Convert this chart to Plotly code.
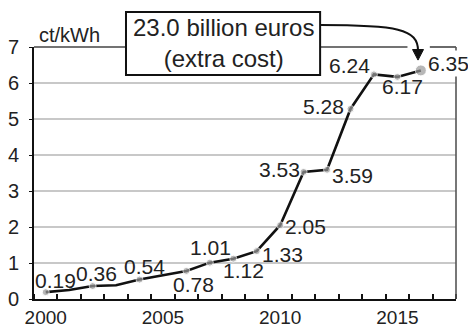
import plotly.graph_objects as go

# EEG surcharge, ct/kWh
years = [2000, 2001, 2002, 2003, 2004, 2005, 2006, 2007, 2008, 2009,
         2010, 2011, 2012, 2013, 2014, 2015, 2016]
surcharge = [0.19, 0.25, 0.36, 0.38, 0.54, 0.67, 0.78, 1.01, 1.12, 1.33,
             2.05, 3.53, 3.59, 5.28, 6.24, 6.17, 6.35]

# years that carry a marker and a value label
labeled_years = [2000, 2002, 2004, 2006, 2007, 2008, 2009,
                 2010, 2011, 2012, 2013, 2014, 2015, 2016]
labeled_values = [0.19, 0.36, 0.54, 0.78, 1.01, 1.12, 1.33,
                  2.05, 3.53, 3.59, 5.28, 6.24, 6.17, 6.35]

# label offsets in pixels (dx, dy) relative to each marker
label_offsets = [(10, 12), (4, 13), (5, 13), (7, -14), (1, 15), (10, -12), (26, -3),
                 (25, -1), (-24, 2), (25, -6), (-27, 2), (-24, 9), (5, -10), (28, 7)]

x_ticks = [2000, 2005, 2010, 2015]
y_ticks = [0, 1, 2, 3, 4, 5, 6, 7]

FONT = "Liberation Sans, Arial, sans-serif"
TXT = "#222222"

fig = go.Figure()
fig.add_trace(go.Scatter(
    x=years, y=surcharge, mode="lines",
    line=dict(color="#111111", width=2.6), hoverinfo="skip", showlegend=False,
))
fig.add_trace(go.Scatter(
    x=labeled_years, y=labeled_values, mode="markers",
    marker=dict(color="#9a9a9a",
                size=[7] * (len(labeled_years) - 1) + [11]),
    showlegend=False, cliponaxis=False,
))

annotations = []
for x, v, (dx, dy) in zip(labeled_years, labeled_values, label_offsets):
    last = x == labeled_years[-1]
    annotations.append(dict(
        x=x, y=v, xref="x", yref="y", text=f"{v:.2f}", showarrow=False,
        xshift=dx, yshift=dy, font=dict(family=FONT, size=21, color=TXT),
        bgcolor="white" if last else None,
    ))

annotations.append(dict(
    x=0.007, y=1.048, xref="paper", yref="paper", text="ct/kWh",
    showarrow=False, xanchor="left", yanchor="middle",
    font=dict(family=FONT, size=20, color=TXT),
))
annotations.append(dict(
    x=0.448, y=1.014, xref="paper", yref="paper",
    text="23.0 billion euros<br>(extra cost)", showarrow=False,
    xanchor="center", yanchor="middle", align="center",
    font=dict(family=FONT, size=24, color=TXT),
))

shapes = [
    # top frame, interrupted where the arrow comes down
    dict(type="line", xref="paper", yref="paper", x0=0, x1=0.885, y0=1, y1=1,
         line=dict(color="#444444", width=1.6), layer="above"),
    dict(type="line", xref="paper", yref="paper", x0=0.938, x1=1, y0=1, y1=1,
         line=dict(color="#444444", width=1.6), layer="above"),
    # right frame
    dict(type="line", xref="paper", yref="paper", x0=1, x1=1, y0=0, y1=1,
         line=dict(color="#555555", width=1.6), layer="above"),
    # text box
    dict(type="rect", xref="paper", yref="paper", x0=0.218, x1=0.678, y0=0.889, y1=1.139,
         line=dict(color="#111111", width=2), fillcolor="white", layer="above"),
    # curved arrow from the box to the last point
    dict(type="path", xref="paper", yref="paper",
         path="M 0.678 1.087 C 0.86 1.087 0.91 1.072 0.91 0.985",
         line=dict(color="#111111", width=2), layer="above"),
    dict(type="path", xref="paper", yref="paper",
         path="M 0.897 0.99 L 0.923 0.99 L 0.91 0.948 Z",
         line=dict(color="#111111", width=1), fillcolor="#111111", layer="above"),
]

fig.update_layout(
    width=468, height=331,
    margin=dict(l=34, r=12, t=47, b=32),
    paper_bgcolor="white", plot_bgcolor="white",
    annotations=annotations, shapes=shapes,
    font=dict(family=FONT, size=20, color=TXT),
)
fig.update_xaxes(
    range=[1999.5, 2017.5], tickvals=x_ticks, ticktext=[str(t) for t in x_ticks],
    ticks="", showgrid=False, zeroline=False, automargin=False,
    showline=True, linecolor="#111111", linewidth=2,
    ticklabelstandoff=0,
    minor=dict(tick0=1999.5, dtick=1, ticks="inside", ticklen=5,
               tickcolor="#111111", tickwidth=1.5, showgrid=False),
    tickfont=dict(family=FONT, size=19, color=TXT),
)
fig.update_yaxes(
    range=[0, 7], tickvals=y_ticks, ticks="outside", ticklen=3,
    tickcolor="#111111", showgrid=True, gridcolor="#c8c8c8", gridwidth=1.5,
    zeroline=False, showline=True, linecolor="#111111", linewidth=2,
    automargin=False, ticklabelstandoff=6,
    tickfont=dict(family=FONT, size=20, color=TXT),
)

fig.write_html("out.html")
